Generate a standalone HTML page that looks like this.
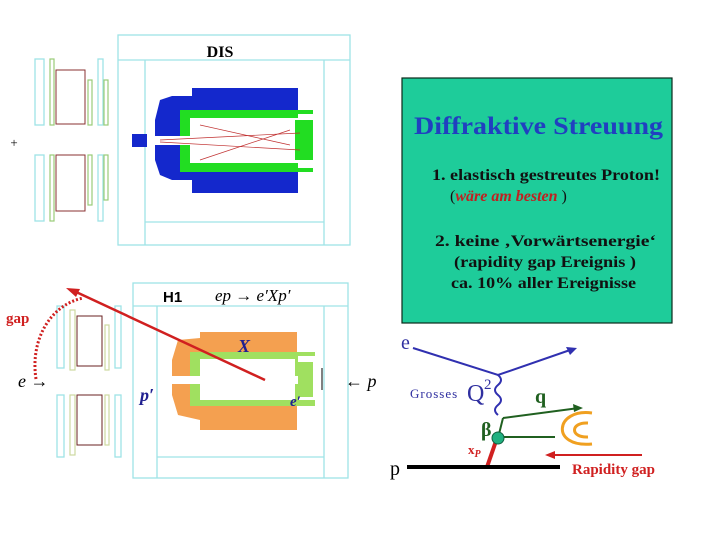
<!DOCTYPE html>
<html><head><style>
body{margin:0;background:#fff;}
svg{display:block;}
text{font-family:"Liberation Serif",serif;}
</style></head><body>
<svg width="720" height="540" viewBox="0 0 720 540">
<!-- top detector -->
<g fill="none" stroke="#9fe3e6" stroke-width="1.3">
<rect x="118" y="35" width="232" height="210"/>
<line x1="118" y1="60" x2="350" y2="60"/>
<line x1="145" y1="60" x2="145" y2="245"/>
<line x1="324" y1="60" x2="324" y2="245"/>
<line x1="145" y1="222" x2="324" y2="222"/>
<rect x="35" y="59" width="9" height="66"/><rect x="35" y="155" width="9" height="66"/>
<rect x="98" y="59" width="5" height="66"/><rect x="98" y="155" width="5" height="66"/>
</g>
<g fill="none" stroke="#9c7" stroke-width="1.2">
<rect x="50" y="59" width="4" height="66"/><rect x="50" y="155" width="4" height="66"/>
<rect x="88" y="80" width="4" height="45"/><rect x="88" y="155" width="4" height="50"/>
<rect x="104" y="80" width="4" height="45"/><rect x="104" y="155" width="4" height="45"/>
</g>
<g fill="none" stroke="#8a3030" stroke-width="1">
<rect x="56" y="70" width="29" height="54"/><rect x="56" y="155" width="29" height="56"/>
</g>
<text x="220" y="57" font-size="16" font-weight="bold" text-anchor="middle">DIS</text>
<text x="14" y="147" font-size="13" text-anchor="middle">+</text>
<path d="M192,88 L298,88 L298,193 L192,193 L192,180 L172,180 L160,175 L155,160 L155,120 L160,100 L172,96 L192,96 Z" fill="#1428cc"/>
<rect x="132" y="134" width="15" height="13" fill="#1428cc"/>
<path d="M180,110 L313,110 L313,114 L298,114 L298,168 L313,168 L313,172 L180,172 L180,140 Z" fill="#22dd22"/>
<rect x="190" y="118" width="110" height="18" fill="#fff"/>
<rect x="190" y="145" width="110" height="18" fill="#fff"/>
<rect x="155" y="136" width="140" height="9" fill="#fff"/>
<rect x="295" y="120" width="18" height="40" fill="#22dd22"/>
<g stroke="#c03030" stroke-width="0.7" fill="none">
<line x1="160" y1="140" x2="300" y2="133"/><line x1="160" y1="142" x2="300" y2="150"/>
<line x1="200" y1="125" x2="290" y2="145"/><line x1="200" y1="160" x2="290" y2="130"/>
</g>
<!-- green box -->
<rect x="402" y="78" width="270" height="245" fill="#1ecc9a" stroke="#0a2a1a" stroke-width="1.2"/>
<text x="414" y="134" font-size="25" font-weight="bold" fill="#2040c0" textLength="249" lengthAdjust="spacingAndGlyphs">Diffraktive Streuung</text>
<g font-weight="bold" font-size="16" fill="#111">
<text x="432" y="180" textLength="228" lengthAdjust="spacingAndGlyphs">1. elastisch gestreutes Proton!</text>
<text x="450" y="201" font-weight="normal">(<tspan font-style="italic" font-weight="bold" fill="#c02020">wäre am besten </tspan>)</text>
<text x="435" y="246" textLength="221" lengthAdjust="spacingAndGlyphs">2. keine ‚Vorwärtsenergie‘</text>
<text x="454" y="267" textLength="182" lengthAdjust="spacingAndGlyphs">(rapidity gap Ereignis )</text>
<text x="451" y="288" textLength="185" lengthAdjust="spacingAndGlyphs">ca. 10% aller Ereignisse</text>
</g>
<!-- bottom detector -->
<g fill="none" stroke="#9fe3e6" stroke-width="1.3">
<rect x="133" y="283" width="215" height="195"/>
<line x1="133" y1="306" x2="348" y2="306"/>
<line x1="157" y1="306" x2="157" y2="478"/>
<line x1="324" y1="306" x2="324" y2="478"/>
<line x1="157" y1="457" x2="324" y2="457"/>
<rect x="57" y="306" width="7" height="62"/><rect x="57" y="395" width="7" height="62"/>
<rect x="115" y="306" width="6" height="62"/><rect x="115" y="395" width="6" height="62"/>
</g>
<g fill="none" stroke="#cdd9a0" stroke-width="1.2">
<rect x="70" y="310" width="5" height="60"/><rect x="70" y="395" width="5" height="60"/>
<rect x="105" y="325" width="4" height="45"/><rect x="105" y="395" width="4" height="50"/>
</g>
<g fill="none" stroke="#6a2020" stroke-width="1">
<rect x="77" y="316" width="25" height="50"/><rect x="77" y="395" width="25" height="50"/>
</g>
<text x="163" y="302" style="font-family:'Liberation Sans',sans-serif;font-size:15px;font-weight:bold">H1</text>
<text x="215" y="301" font-size="17" font-style="italic">ep → e′Xp′</text>
<path d="M200,332 L297,332 L297,430 L200,430 L200,420 L178,415 L172,395 L172,360 L178,340 L200,338 Z" fill="#f4a050"/>
<path d="M190,352 L315,352 L315,356 L298,356 L298,400 L315,400 L315,406 L190,406 Z" fill="#a0e060"/>
<rect x="200" y="359" width="95" height="41" fill="#fff"/>
<rect x="160" y="376" width="140" height="8" fill="#fff"/>
<rect x="298" y="362" width="15" height="35" fill="#a0e060"/>
<line x1="322" y1="368" x2="322" y2="390" stroke="#000"/>
<text x="238" y="352" font-size="18" font-style="italic" font-weight="bold" fill="#202090">X</text>
<text x="140" y="401" font-size="18" font-style="italic" font-weight="bold" fill="#202090">p′</text>
<text x="290" y="406" font-size="15" font-style="italic" font-weight="bold" fill="#202090">e′</text>
<text x="18" y="387" font-size="18" font-style="italic">e →</text>
<text x="345" y="387" font-size="18" font-style="italic">← p</text>
<text x="6" y="323" font-size="15" font-weight="bold" fill="#d02020">gap</text>
<path d="M36,379 C30,340 50,305 83,298" fill="none" stroke="#d02020" stroke-width="3" stroke-dasharray="2,2"/>
<line x1="265" y1="380" x2="74" y2="291" stroke="#d02020" stroke-width="2.5"/>
<polygon points="66,288 80,289 76,297" fill="#d02020"/>
<!-- feynman -->
<text x="401" y="349" font-size="20" fill="#3030a0">e</text>
<polyline points="413,348 498,375 573,349" fill="none" stroke="#3030b0" stroke-width="2"/>
<polygon points="577,348 566,347 570,355" fill="#3030b0"/>
<path d="M498,375 q6,5 0,10 q-6,5 0,10 q6,5 0,10 q-6,5 0,10" fill="none" stroke="#3030b0" stroke-width="2"/>
<text x="410" y="398" font-size="13" fill="#3030a0" letter-spacing="1">Grosses</text>
<text x="467" y="401" font-size="24" fill="#3030a0">Q</text><text x="484" y="389" font-size="15" fill="#3030a0">2</text>
<text x="535" y="403" font-size="20" font-weight="bold" fill="#206020">q</text>
<line x1="503" y1="418" x2="579" y2="408" stroke="#206020" stroke-width="2"/>
<polygon points="583,408 573,404 574,412" fill="#206020"/>
<line x1="498" y1="438" x2="503" y2="418" stroke="#206020" stroke-width="2"/>
<line x1="498" y1="437" x2="555" y2="437" stroke="#206020" stroke-width="2"/>
<path d="M592,413 C555,408 550,448 592,444" fill="none" stroke="#f0a020" stroke-width="3"/>
<path d="M588,423 C570,422 570,438 588,437" fill="none" stroke="#f0a020" stroke-width="3"/>
<text x="481" y="436" font-size="20" font-weight="bold" fill="#206020">β</text>
<line x1="496" y1="441" x2="487" y2="467" stroke="#d02020" stroke-width="4"/>
<circle cx="498" cy="438" r="6" fill="#20b080" stroke="#106040"/>
<text x="468" y="454" font-size="13" font-weight="bold" fill="#d02020">x<tspan font-size="10" dy="3" font-style="italic">P</tspan></text>
<text x="390" y="475" font-size="20">p</text>
<line x1="407" y1="467" x2="560" y2="467" stroke="#000" stroke-width="4"/>
<line x1="553" y1="455" x2="642" y2="455" stroke="#d02020" stroke-width="2"/>
<polygon points="545,455 555,451 555,459" fill="#d02020"/>
<text x="572" y="474" font-size="15" font-weight="bold" fill="#d02020">Rapidity gap</text>
</svg>
</body></html>
